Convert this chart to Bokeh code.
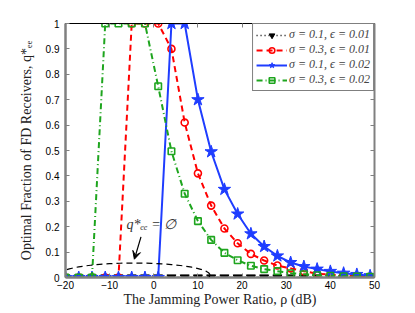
import numpy as np
from bokeh.plotting import figure
from bokeh.models import (LinearAxis, FixedTicker, CustomJSTickFormatter, Legend, LegendItem,
                          Label, Arrow, VeeHead, PolyAnnotation, Range1d)
from bokeh.embed import file_html
from bokeh.resources import INLINE

# ---------------- data ----------------
rho_db = [-20, -17, -14, -11, -8, -5, -2, 1, 4, 7, 10, 13, 16, 19, 22, 25, 28, 31, 34, 37, 40, 43, 46, 49]

q_s01_e001 = [0, 0, 0, 0, 0, 0, 0, 0, 0, 0, 0, 0, 0, 0, 0, 0, 0, 0, 0, 0, 0, 0, 0, 0]
q_s03_e001 = [0, 0, 0, 0, 0, 1, 1, 1, 0.90, 0.61, 0.41, 0.283, 0.193, 0.135, 0.093, 0.067,
              0.047, 0.036, 0.025, 0.015, 0.011, 0.008, 0.005, 0.003]
q_s01_e002 = [0, 0, 0, 0, 0, 0, 0, 0, 1, 1, 0.70, 0.495, 0.347, 0.25, 0.172, 0.122,
              0.085, 0.059, 0.043, 0.033, 0.024, 0.017, 0.012, 0.007]
q_s03_e002 = [0, 0, 0, 1, 1, 1, 1, 0.753, 0.497, 0.33, 0.222, 0.148, 0.097, 0.068, 0.046, 0.033,
              0.025, 0.017, 0.013, 0.009, 0.007, 0.005, 0.004, 0.003]

labels = ["σ = 0.1, ϵ = 0.01", "σ = 0.3, ϵ = 0.01", "σ = 0.1, ϵ = 0.02", "σ = 0.3, ϵ = 0.02"]

x_ticks = [-20, -10, 0, 10, 20, 30, 40, 50]
y_ticks = [0, 0.1, 0.2, 0.3, 0.4, 0.5, 0.6, 0.7, 0.8, 0.9, 1]

x_label = "The Jamming Power Ratio, ρ (dB)"
y_label = "Optimal Fraction of FD Receivers, q*ₑₑ"
note_text = "q*ₑₑ = ∅"

# annotation geometry (data units)
note_x, note_y = -6.2, 0.178
arrow_from = (-2.9, 0.16)
arrow_to = (-4.4, 0.072)
ell_cx, ell_cy, ell_w, ell_h = -4.4, 0.01, 34.2, 0.094

# ---------------- figure ----------------
SERIF = "Liberation Serif"
SANS = "Liberation Sans"
GRAY = "#808080"

p = figure(frame_width=309, frame_height=254, output_backend="svg", toolbar_location=None,
           x_range=Range1d(-20, 50), y_range=Range1d(0, 1),
           min_border_left=65, min_border_right=26, min_border_top=23, min_border_bottom=27,
           x_axis_location=None, y_axis_location=None)
p.background_fill_color = "white"
p.border_fill_color = "white"
p.outline_line_color = "black"
p.outline_line_width = 1
p.grid.visible = False

yfmt = CustomJSTickFormatter(code="return String(Math.round(tick*10)/10);")
empty = CustomJSTickFormatter(code="return '';")


def style_axis(ax, line_color=GRAY, line_width=2.5):
    ax.axis_line_color = line_color
    ax.axis_line_width = line_width
    ax.major_tick_in = 4
    ax.major_tick_out = 0
    ax.major_tick_line_color = GRAY
    ax.major_tick_line_width = 1
    ax.minor_tick_line_color = None
    ax.major_label_text_font = SANS
    ax.major_label_text_font_size = "10px"
    ax.major_label_text_color = "black"
    ax.axis_label_text_font = SERIF
    ax.axis_label_text_font_size = "14px"
    ax.axis_label_text_font_style = "normal"
    ax.axis_label_text_color = "#222222"


xb = LinearAxis(ticker=FixedTicker(ticks=x_ticks), axis_label=x_label)
style_axis(xb)
xb.major_label_standoff = 3
xb.axis_label_standoff = 0
p.add_layout(xb, "below")

yl = LinearAxis(ticker=FixedTicker(ticks=y_ticks), formatter=yfmt, axis_label=y_label)
style_axis(yl)
yl.major_label_standoff = 6
yl.axis_label_standoff = 9
p.add_layout(yl, "left")

xt = LinearAxis(ticker=FixedTicker(ticks=x_ticks), formatter=empty)
style_axis(xt, line_color="black", line_width=1)
xt.major_label_standoff = 0
p.add_layout(xt, "above")

yr = LinearAxis(ticker=FixedTicker(ticks=y_ticks), formatter=empty)
style_axis(yr, line_width=2)
yr.major_label_standoff = 0
p.add_layout(yr, "right")

# ---------------- series ----------------
BLACK, RED, BLUE, GREEN = "black", "#ff0000", "#1f3dff", "#1ea51e"

l1 = p.line(rho_db, q_s01_e001, line_color=BLACK, line_width=1.5, line_dash="1 3")
m1 = p.scatter(rho_db, q_s01_e001, marker="inverted_triangle", size=9,
               fill_color=BLACK, line_color=BLACK)

l2 = p.line(rho_db, q_s03_e001, line_color=RED, line_width=2, line_dash="6 4")
m2 = p.scatter(rho_db, q_s03_e001, marker="circle", size=7, fill_color=None,
               line_color=RED, line_width=1.6)

l3 = p.line(rho_db, q_s01_e002, line_color=BLUE, line_width=2)
m3 = p.scatter(rho_db, q_s01_e002, marker="star", size=13, fill_color=BLUE,
               line_color=BLUE)

l4 = p.line(rho_db, q_s03_e002, line_color=GREEN, line_width=2, line_dash="6 3 1 3")
m4 = p.scatter(rho_db, q_s03_e002, marker="square", size=6.5, fill_color=None,
               line_color=GREEN, line_width=1.6)

legend = Legend(items=[LegendItem(label=labels[0], renderers=[l1, m1]),
                       LegendItem(label=labels[1], renderers=[l2, m2]),
                       LegendItem(label=labels[2], renderers=[l3, m3]),
                       LegendItem(label=labels[3], renderers=[l4, m4])],
                location="top_right", margin=0, padding=3, spacing=0,
                glyph_width=31, glyph_height=14, label_height=14, label_standoff=2,
                label_text_font=SERIF, label_text_font_style="italic",
                label_text_font_size="12px", border_line_color="black",
                border_line_width=1, background_fill_color="white", background_fill_alpha=1)
p.add_layout(legend)

# ---------------- annotation ----------------
t = np.linspace(0, 2 * np.pi, 90)
p.add_layout(PolyAnnotation(xs=list(ell_cx + ell_w / 2 * np.cos(t)),
                            ys=list(ell_cy + ell_h / 2 * np.sin(t)),
                            fill_alpha=0, line_color="black", line_alpha=1, line_width=1.2,
                            line_dash="6 4"))
p.add_layout(Arrow(x_start=arrow_from[0], y_start=arrow_from[1],
                   x_end=arrow_to[0], y_end=arrow_to[1], line_color="black", line_width=1.2,
                   end=VeeHead(size=8, fill_color="black", line_color="black")))
p.add_layout(Label(x=note_x, y=note_y, text=note_text, text_font=SERIF,
                   text_font_style="italic", text_font_size="14px", text_color="#333333"))

open("out.html", "w").write(file_html(p, INLINE))
